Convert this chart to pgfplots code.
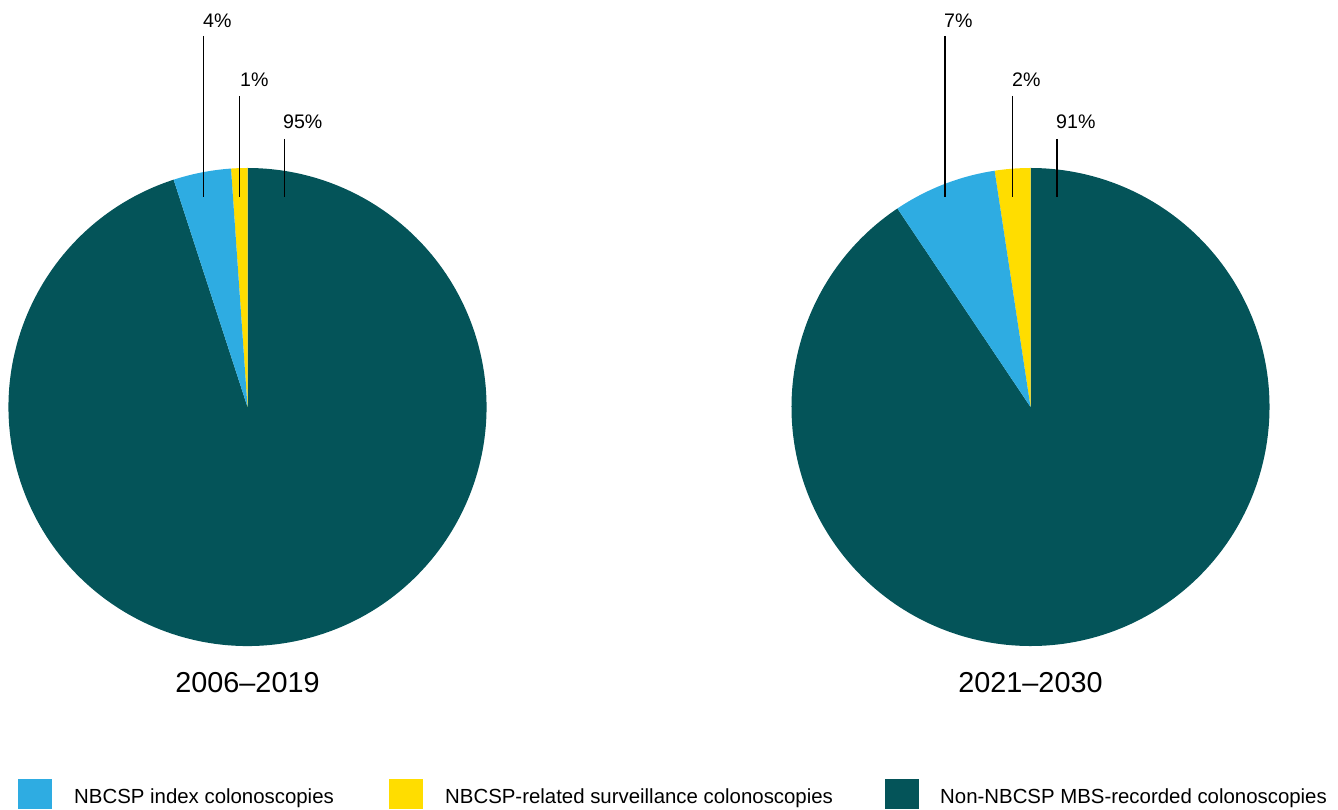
\documentclass[border=0pt]{standalone}
\usepackage{pgfplots}
\pgfplotsset{compat=1.18}
\usepackage{pgfplotstable}
\usepackage{fontspec}
\setmainfont{Liberation Sans}
\definecolor{cblue}{RGB}{46,172,226}
\definecolor{cyel}{RGB}{255,221,0}
\definecolor{cteal}{RGB}{4,84,89}

% shares (%), drawn counter-clockwise from 12 o'clock
\pgfplotstableread{
group value
surveillance 1.1
index 3.9
nonnbcsp 95.0
}\tabA
\pgfplotstableread{
group value
surveillance 2.4
index 7.0
nonnbcsp 90.6
}\tabB

\pgfplotstablegetelem{0}{value}\of\tabA \let\aS\pgfplotsretval
\pgfplotstablegetelem{1}{value}\of\tabA \let\aI\pgfplotsretval
\pgfplotstablegetelem{0}{value}\of\tabB \let\bS\pgfplotsretval
\pgfplotstablegetelem{1}{value}\of\tabB \let\bI\pgfplotsretval
\pgfmathsetmacro\aSend{90+3.6*\aS}
\pgfmathsetmacro\aIend{\aSend+3.6*\aI}
\pgfmathsetmacro\bSend{90+3.6*\bS}
\pgfmathsetmacro\bIend{\bSend+3.6*\bI}

\newcommand{\pie}[2]{% #1 end of surveillance, #2 end of index
  \fill[cteal] (axis cs:0,0) -- (axis cs:{cos(#2)},{sin(#2)}) arc[start angle=#2, end angle=450, radius=239pt] -- cycle;
  \fill[cyel] (axis cs:0,0) -- (axis cs:0,1) arc[start angle=90, end angle=#1, radius=239pt] -- cycle;
  \fill[cblue] (axis cs:0,0) -- (axis cs:{cos(#1)},{sin(#1)}) arc[start angle=#1, end angle=#2, radius=239pt] -- cycle;
}

\begin{document}
\begin{tikzpicture}[x=1pt,y=1pt]
\path[use as bounding box] (0,0) rectangle (1338,809);

\begin{axis}[hide axis, scale only axis, width=478pt, height=478pt,
  xmin=-1, xmax=1, ymin=-1, ymax=1, clip=false,
  at={(247.5pt,402pt)}, anchor=origin]
  \pie{\aSend}{\aIend}
\end{axis}

\begin{axis}[hide axis, scale only axis, width=478pt, height=478pt,
  xmin=-1, xmax=1, ymin=-1, ymax=1, clip=false,
  at={(1030.5pt,402pt)}, anchor=origin]
  \pie{\bSend}{\bIend}
\end{axis}

% leader lines and labels
\def\lab{\fontsize{19.6}{19.6}\selectfont}
\begin{scope}[line width=1.1pt]
\draw (203.5,809-36) -- (203.5,809-197);
\draw (239.7,809-96) -- (239.7,809-197);
\draw (284.3,809-139) -- (284.3,809-197);
\draw (945,809-36) -- (945,809-197);
\draw (1012.7,809-96) -- (1012.7,809-197);
\draw (1057,809-139) -- (1057,809-197);
\end{scope}
\node[anchor=base west, inner sep=0, font=\lab] at (203,809-28) {4\%};
\node[anchor=base west, inner sep=0, font=\lab] at (240,809-87) {1\%};
\node[anchor=base west, inner sep=0, font=\lab] at (283,809-129) {95\%};
\node[anchor=base west, inner sep=0, font=\lab] at (944,809-28) {7\%};
\node[anchor=base west, inner sep=0, font=\lab] at (1012,809-87) {2\%};
\node[anchor=base west, inner sep=0, font=\lab] at (1056,809-129) {91\%};

% period titles
\node[anchor=base, inner sep=0, font=\fontsize{28.8}{28.8}\selectfont] at (247.5,809-692) {2006–2019};
\node[anchor=base, inner sep=0, font=\fontsize{28.8}{28.8}\selectfont] at (1030.5,809-692) {2021–2030};

% legend
\fill[cblue] (18,0) rectangle (52,30);
\fill[cyel] (389,0) rectangle (423,30);
\fill[cteal] (885,0) rectangle (919,30);
\def\leg{\fontsize{20.4}{20.4}\selectfont}
\node[anchor=base west, inner sep=0, font=\leg] at (74,809-803) {NBCSP index colonoscopies};
\node[anchor=base west, inner sep=0, font=\leg] at (445,809-803) {NBCSP-related surveillance colonoscopies};
\node[anchor=base west, inner sep=0, font=\leg] at (940,809-803) {Non-NBCSP MBS-recorded colonoscopies};
\end{tikzpicture}
\end{document}
